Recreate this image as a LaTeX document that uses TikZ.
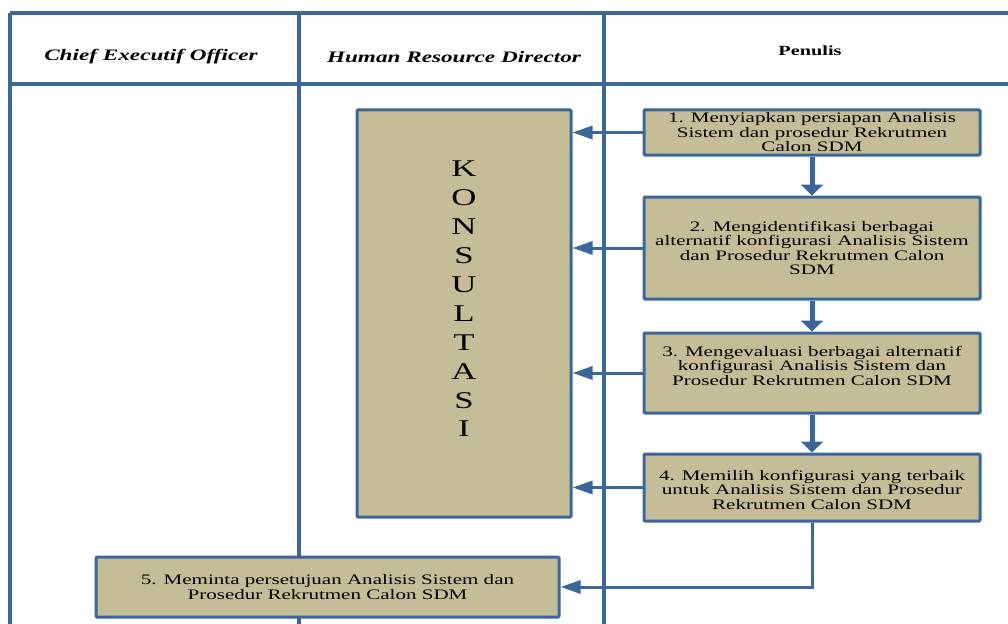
\documentclass[tikz,border=0pt]{standalone}
\usepackage{fontspec}
\setmainfont[FakeStretch=1.45]{Liberation Serif}
\usetikzlibrary{arrows.meta}
\definecolor{laneblue}{HTML}{3B6698}
\definecolor{boxtan}{HTML}{C4BD97}
\tikzset{
  lane/.style={draw=laneblue, line width=3.5pt},
  procbox/.style={rectangle, draw=laneblue, fill=boxtan, line width=3pt,
    inner sep=0pt, align=center, rounded corners=1pt,
    font=\fontsize{14.5}{14.5}\selectfont},
  hflow/.style={draw=laneblue, line width=3pt,
    -{Triangle[length=20pt,width=13pt]}},
  vflow/.style={draw=laneblue, line width=5pt,
    -{Triangle[length=11pt,width=22pt]}},
  lanehead/.style={font=\fontsize{16}{16}\selectfont\bfseries\itshape},
}
\begin{document}
\begin{tikzpicture}[x=1pt, y=-1pt]
\useasboundingbox (0,0) rectangle (1008,623);

% swimlane grid
\draw[lane] (10,13) -- (1010,13);
\draw[lane] (10,84) -- (1010,84);
\draw[lane] (10,13) -- (10,625);
\draw[lane] (299,13) -- (299,625);
\draw[lane] (604,13) -- (604,625);

% lane titles
\node[lanehead] (hceo) at (151,57) {Chief Executif Officer};
\node[lanehead] (hhrd) at (454,57) {Human Resource Director};
\node[font=\fontsize{14}{14}\selectfont\bfseries] (hpen) at (810,51) {Penulis};

% consultation block
\node[procbox, minimum width=214pt, minimum height=407pt,
  font=\fontsize{24}{28.9}\selectfont] (kons) at (464,313.5)
  {K\\O\\N\\S\\U\\L\\T\\A\\S\\I\\\mbox{}};

% process steps
\node[procbox, minimum width=336pt, minimum height=45pt] (b1) at (812,132.5)
  {1. Menyiapkan persiapan Analisis\\Sistem dan prosedur Rekrutmen\\Calon SDM};
\node[procbox, minimum width=336pt, minimum height=102pt] (b2) at (812,248)
  {2. Mengidentifikasi berbagai\\alternatif konfigurasi Analisis Sistem\\dan Prosedur Rekrutmen Calon\\SDM};
\node[procbox, minimum width=336pt, minimum height=80pt] (b3) at (812,373)
  {3. Mengevaluasi berbagai alternatif\\konfigurasi Analisis Sistem dan\\Prosedur Rekrutmen Calon SDM\\\mbox{}};
\node[procbox, minimum width=336pt, minimum height=67pt] (b4) at (812,487.5)
  {\mbox{}\\4. Memilih konfigurasi yang terbaik\\untuk Analisis Sistem dan Prosedur\\Rekrutmen Calon SDM};
\node[procbox, minimum width=463pt, minimum height=60pt] (b5) at (327.5,587)
  {5. Meminta persetujuan Analisis Sistem dan\\Prosedur Rekrutmen Calon SDM};

% consultation arrows
\draw[hflow] (b1.west) -- (b1.west -| kons.east);
\draw[hflow] (b2.west) -- (b2.west -| kons.east);
\draw[hflow] (b3.west) -- (b3.west -| kons.east);
\draw[hflow] (b4.west) -- (b4.west -| kons.east);

% step sequence
\draw[vflow] (b1.south) -- (b2.north);
\draw[vflow] (b2.south) -- (b3.north);
\draw[vflow] (b3.south) -- (b4.north);
\draw[hflow] (b4.south) |- (b5.east);
\end{tikzpicture}
\end{document}
